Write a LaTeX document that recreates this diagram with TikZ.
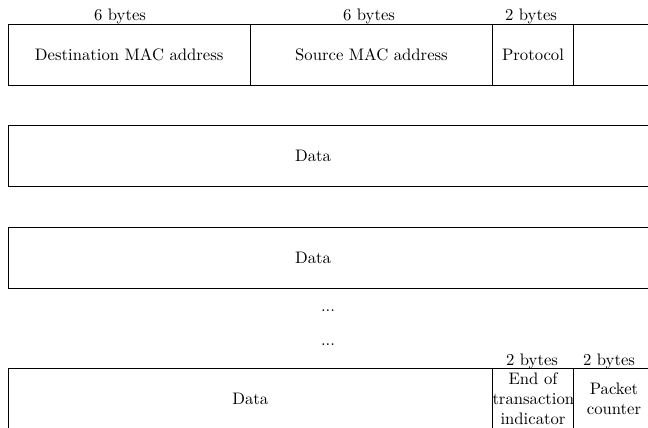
\documentclass[tikz,border=0pt]{standalone}
\begin{document}
\begin{tikzpicture}[x=0.6pt,y=-0.6pt,
  field/.style={draw, line width=0.6pt, rectangle, inner sep=0pt, anchor=north west,
    minimum height=36.6pt, align=center},
  lbl/.style={inner sep=0pt, anchor=base},
  txt/.style={inner sep=0pt, anchor=center}]
\useasboundingbox (0,0) rectangle (648,427);
\clip (0,0) rectangle (648,427);
% header row
\node[field, minimum width=145.5pt, text width=145.5pt] (dst) at (7.5,24) {Destination MAC address};
\node[field, minimum width=145.2pt, text width=145.2pt] (src) at (250,24) {Source MAC address};
\node[field, minimum width=48.6pt, text width=48.6pt] (proto) at (492,24) {Protocol};
\node[field, minimum width=48.6pt, text width=48.6pt] (rest) at (573,24) {};
\node[lbl] (l1) at (120,20) {6 bytes};
\node[lbl] (l2) at (369,20) {6 bytes};
\node[lbl] (l3) at (531,20) {2 bytes};
% data rows
\node[field, minimum width=387.9pt] (data1) at (7.5,125) {};
\node[txt] (d1) at (313,156) {Data};
\node[field, minimum width=387.9pt] (data2) at (7.5,227) {};
\node[txt] (d2) at (313,258) {Data};
% ellipses
\node[lbl] (dots1) at (328,311) {...};
\node[lbl] (dots2) at (328,345) {...};
% last row
\node[field, minimum width=290.7pt, text width=290.7pt] (data3) at (7.5,368) {Data};
\node[field, minimum width=48.6pt, text width=48.6pt] (eot) at (492,368) {End of\\transaction\\indicator};
\node[field, minimum width=48.6pt, text width=48.6pt] (pc) at (573,368) {Packet\\counter};
\node[lbl] (l4) at (532,365) {2 bytes};
\node[lbl] (l5) at (609,365) {2 bytes};
\end{tikzpicture}
\end{document}
